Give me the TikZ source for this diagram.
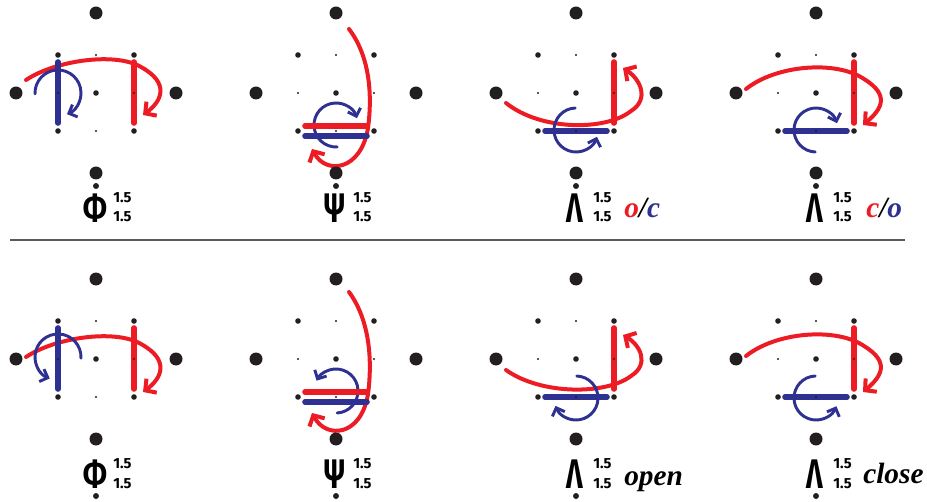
\documentclass[tikz,border=0pt]{standalone}
\usepackage{fontspec}
\setsansfont{Fira Sans}
\newfontfamily\tagserif{Liberation Serif}
\usetikzlibrary{arrows.meta}

\definecolor{spinred}{HTML}{ED1C24}
\definecolor{spinblue}{HTML}{2E3192}
\definecolor{dotblack}{HTML}{231F20}
\definecolor{rulegray}{HTML}{5A5A5A}

\tikzset{
  redbar/.style={spinred, line width=4.2pt, line cap=round},
  bluebar/.style={spinblue, line width=4.2pt, line cap=round},
  redloop/.style={spinred, line width=3pt, line cap=round, -{Straight Barb[length=6pt, width=13pt]}},
  blueloop/.style={spinblue, line width=2.2pt, line cap=round, -{Straight Barb[length=5pt, width=10pt]}},
  symb/.style={font=\sffamily\bfseries\fontsize{31}{32}\selectfont, inner sep=0pt},
  idx/.style={font=\sffamily\bfseries\fontsize{11}{14.5}\selectfont, inner sep=0pt, anchor=west, align=left},
  tag/.style={font=\tagserif\bfseries\itshape\fontsize{22}{24}\selectfont, inner sep=0pt, anchor=base west},
}

% narrow glyph for the plaquette symbols
\newcommand\narrow[1]{\scalebox{0.68}[1]{#1}}

% dots of one plaquette, centre at the origin of the scope
\newcommand\lattice{%
  \foreach \p in {(0,-80),(-80,0),(80,0),(0,80)} \fill[dotblack] \p circle (6.5);
  \foreach \p in {(-38,-38),(38,-38),(-38,38),(38,38),(0,0)} \fill[dotblack] \p circle (2.8);
  \foreach \p in {(0,-38),(-38,0),(38,0),(0,38)} \fill[dotblack] \p circle (1.2);
}

\begin{document}
\begin{tikzpicture}[x=0.75pt, y=-0.75pt]

\useasboundingbox (0,0) rectangle (927,502);

% ---------------- top row ----------------
% Phi
\begin{scope}[shift={(96,93)}]
  \draw[redloop] (-70,-13) .. controls (-40,-33) and (20,-41) .. (45,-26) .. controls (74,-10) and (66,8) .. (47,22);
  \draw[blueloop, shift={(-38,0)}] (178:23) arc[start angle=178, end angle=427, radius=23];
  \draw[redbar] (38,-31) -- (38,30);
  \draw[bluebar] (-38,-31) -- (-38,30);
  \lattice
  \fill[dotblack] (0,93) circle (3);
  \node[symb] (phitop) at (-1,115) {\narrow{Φ}};
  \node[idx] (phitopidx) at (17,114.5) {1.5\\1.5};
\end{scope}

% Psi
\begin{scope}[shift={(336,93)}]
  \draw[redloop] (13,-64) .. controls (35,-35) and (36,5) .. (32,35) .. controls (25,78) and (-10,82) .. (-24,56);
  \draw[blueloop, shift={(0,32)}] (87:22) arc[start angle=87, end angle=342, radius=22];
  \draw[redbar] (-31,33) -- (31,33);
  \draw[bluebar] (-31,43) -- (31,43);
  \lattice
  \fill[dotblack] (0,93) circle (3);
  \node[symb] (psitop) at (-1,115) {\narrow{Ψ}};
  \node[idx] (psitopidx) at (17,114.5) {1.5\\1.5};
\end{scope}

% Lambda o/c
\begin{scope}[shift={(576,93)}]
  \draw[redloop] (-70,10) .. controls (-35,38) and (30,38) .. (55,18) .. controls (74,6) and (64,-14) .. (47,-25);
  \draw[blueloop, shift={(0,37)}] (268:22) arc[start angle=268, end angle=18, radius=22];
  \draw[redbar] (38,-31) -- (38,30);
  \draw[bluebar] (-31,38) -- (31,38);
  \lattice
  \fill[dotblack] (0,93) circle (3);
  \node[symb] (lamoc) at (-1,115) {\narrow{Λ}};
  \node[idx] (lamocidx) at (17,114.5) {1.5\\1.5};
  \node[tag] (oc) at (48,125) {\textcolor{spinred}{o}/\textcolor{spinblue}{c}};
\end{scope}

% Lambda c/o
\begin{scope}[shift={(816,93)}]
  \draw[redloop] (-70,-4) .. controls (-40,-28) and (20,-33) .. (48,-14) .. controls (74,2) and (66,16) .. (47,32);
  \draw[blueloop, shift={(0,37)}] (92:22) arc[start angle=92, end angle=342, radius=22];
  \draw[redbar] (38,-31) -- (38,30);
  \draw[bluebar] (-31,38) -- (31,38);
  \lattice
  \fill[dotblack] (0,93) circle (3);
  \node[symb] (lamco) at (-1,115) {\narrow{Λ}};
  \node[idx] (lamcoidx) at (17,114.5) {1.5\\1.5};
  \node[tag] (co) at (50,125) {\textcolor{spinred}{c}/\textcolor{spinblue}{o}};
\end{scope}

% divider
\draw[rulegray, line width=0.8pt] (10,240) -- (905,240);

% ---------------- bottom row ----------------
% Phi
\begin{scope}[shift={(96,359)}]
  \draw[redloop] (-70,-2) .. controls (-40,-22) and (20,-30) .. (45,-15) .. controls (74,1) and (66,19) .. (47,33);
  \draw[blueloop, shift={(-38,-2)}] (363:23) arc[start angle=363, end angle=111, radius=23];
  \draw[redbar] (38,-31) -- (38,30);
  \draw[bluebar] (-38,-31) -- (-38,30);
  \lattice
  \fill[dotblack] (0,137) circle (3);
  \node[symb] (phibot) at (-1,115) {\narrow{Φ}};
  \node[idx] (phibotidx) at (17,114.5) {1.5\\1.5};
\end{scope}

% Psi
\begin{scope}[shift={(336,359)}]
  \draw[redloop] (13,-67) .. controls (35,-37) and (36,5) .. (32,35) .. controls (25,78) and (-10,80) .. (-24,54);
  \draw[blueloop, shift={(0,32)}] (87:22) arc[start angle=87, end angle=-152, radius=22];
  \draw[redbar] (-31,33) -- (31,33);
  \draw[bluebar] (-31,43) -- (31,43);
  \lattice
  \fill[dotblack] (0,137) circle (3);
  \node[symb] (psibot) at (-1,115) {\narrow{Ψ}};
  \node[idx] (psibotidx) at (17,114.5) {1.5\\1.5};
\end{scope}

% Lambda open
\begin{scope}[shift={(576,359)}]
  \draw[redloop] (-70,11) .. controls (-35,36) and (30,36) .. (55,17) .. controls (74,5) and (64,-14) .. (47,-24);
  \draw[blueloop, shift={(0,39)}] (272:22) arc[start angle=272, end angle=519, radius=22];
  \draw[redbar] (38,-31) -- (38,30);
  \draw[bluebar] (-31,38) -- (31,38);
  \lattice
  \fill[dotblack] (0,137) circle (3);
  \node[symb] (lamopen) at (-1,115) {\narrow{Λ}};
  \node[idx] (lamopenidx) at (17,114.5) {1.5\\1.5};
  \node[tag] (open) at (48,126) {open};
\end{scope}

% Lambda close
\begin{scope}[shift={(816,359)}]
  \draw[redloop] (-70,-3) .. controls (-40,-27) and (20,-32) .. (48,-13) .. controls (74,3) and (66,17) .. (47,33);
  \draw[blueloop, shift={(0,39)}] (268:22) arc[start angle=268, end angle=22, radius=22];
  \draw[redbar] (38,-31) -- (38,30);
  \draw[bluebar] (-31,38) -- (31,38);
  \lattice
  \fill[dotblack] (0,137) circle (3);
  \node[symb] (lamclose) at (-1,115) {\narrow{Λ}};
  \node[idx] (lamcloseidx) at (17,114.5) {1.5\\1.5};
  \node[tag] (close) at (47,124) {close};
\end{scope}

\end{tikzpicture}
\end{document}
